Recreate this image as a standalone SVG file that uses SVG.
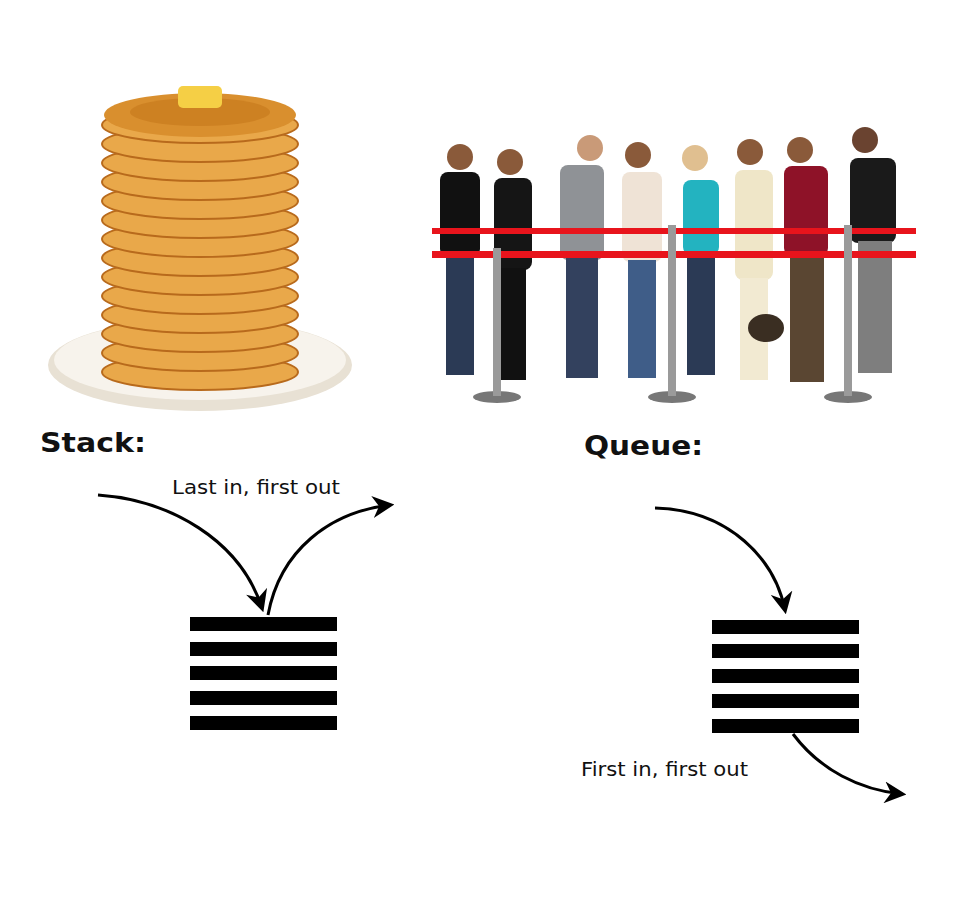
<svg xmlns="http://www.w3.org/2000/svg" width="980" height="905" viewBox="0 0 980 905">
<style>
.lbl{font-family:"DejaVu Sans","Liberation Sans",sans-serif;font-size:19px;fill:#111}
.ttl{font-family:"DejaVu Sans","Liberation Sans",sans-serif;font-size:27px;font-weight:bold;fill:#111}
.bar{fill:#000}
.cn{fill:none;stroke:#000;stroke-width:3}
.pc{fill:#e9a84a;stroke:#b86a1c;stroke-width:2}
.head{fill:#8a5a3a}
.leg{fill:#2b3a55}
.pole{fill:#9a9a9a}
</style>
<defs>
<marker id="ah" viewBox="0 0 10 10" refX="8" refY="5" markerWidth="22" markerHeight="22" orient="auto" markerUnits="userSpaceOnUse">
<path d="M0,0 L10,5 L0,10 L3,5 Z" fill="#000"/>
</marker>
</defs>
<rect width="980" height="905" fill="#fff"/>
<g id="pancakes">
<ellipse cx="200" cy="365" rx="152" ry="46" fill="#e8e1d4"/>
<ellipse cx="200" cy="360" rx="146" ry="40" fill="#f7f3ec"/>
<g>
<ellipse class="pc" cx="200" cy="372" rx="98" ry="18"/>
<ellipse class="pc" cx="200" cy="353" rx="98" ry="18"/>
<ellipse class="pc" cx="200" cy="334" rx="98" ry="18"/>
<ellipse class="pc" cx="200" cy="315" rx="98" ry="18"/>
<ellipse class="pc" cx="200" cy="296" rx="98" ry="18"/>
<ellipse class="pc" cx="200" cy="277" rx="98" ry="18"/>
<ellipse class="pc" cx="200" cy="258" rx="98" ry="18"/>
<ellipse class="pc" cx="200" cy="239" rx="98" ry="18"/>
<ellipse class="pc" cx="200" cy="220" rx="98" ry="18"/>
<ellipse class="pc" cx="200" cy="201" rx="98" ry="18"/>
<ellipse class="pc" cx="200" cy="182" rx="98" ry="18"/>
<ellipse class="pc" cx="200" cy="163" rx="98" ry="18"/>
<ellipse class="pc" cx="200" cy="144" rx="98" ry="18"/>
<ellipse class="pc" cx="200" cy="125" rx="98" ry="18"/>
<ellipse cx="200" cy="115" rx="96" ry="22" fill="#d98f2e"/>
<ellipse cx="200" cy="112" rx="70" ry="14" fill="#c77a1e" opacity="0.7"/>
<rect x="178" y="86" width="44" height="22" rx="5" fill="#f5cf45"/>
</g>
</g>
<g id="queue">
<g fill="#777">
<ellipse cx="497" cy="397" rx="24" ry="6"/>
<ellipse cx="672" cy="397" rx="24" ry="6"/>
<ellipse cx="848" cy="397" rx="24" ry="6"/>
</g>
<g>
<circle class="head" cx="460" cy="157" r="13"/><rect x="440" y="172" width="40" height="85" rx="8" fill="#111"/><rect x="446" y="255" width="28" height="120" class="leg"/>
<circle class="head" cx="510" cy="162" r="13"/><rect x="494" y="178" width="38" height="92" rx="8" fill="#151515"/><rect x="500" y="268" width="26" height="112" fill="#111"/>
<circle cx="590" cy="148" r="13" fill="#c99a78"/><rect x="560" y="165" width="44" height="95" rx="8" fill="#8f9296"/><rect x="566" y="258" width="32" height="120" fill="#33415e"/>
<circle class="head" cx="638" cy="155" r="13"/><rect x="622" y="172" width="40" height="90" rx="8" fill="#efe3d6"/><rect x="628" y="260" width="28" height="118" fill="#3f5d88"/>
<circle cx="695" cy="158" r="13" fill="#e0bf90"/><rect x="683" y="180" width="36" height="75" rx="8" fill="#23b3c0"/><rect x="687" y="253" width="28" height="122" class="leg"/>
<circle class="head" cx="750" cy="152" r="13"/><rect x="735" y="170" width="38" height="110" rx="8" fill="#efe6c8"/><rect x="740" y="278" width="28" height="102" fill="#f2ead2"/>
<ellipse cx="766" cy="328" rx="18" ry="14" fill="#3a2e22"/>
<circle class="head" cx="800" cy="150" r="13"/><rect x="784" y="166" width="44" height="90" rx="8" fill="#8e1228"/><rect x="790" y="254" width="34" height="128" fill="#5a4632"/>
<circle cx="865" cy="140" r="13" fill="#6a4330"/><rect x="850" y="158" width="46" height="85" rx="8" fill="#1a1a1a"/><rect x="858" y="241" width="34" height="132" fill="#7e7e7e"/>
</g>
<g fill="#e8141c">
<rect x="432" y="228" width="484" height="6"/>
<rect x="432" y="251" width="484" height="7"/>
</g>
<g class="pole">
<rect x="493" y="248" width="8" height="148"/>
<rect x="668" y="225" width="8" height="171"/>
<rect x="844" y="225" width="8" height="171"/>
</g>
</g>
<text class="ttl" x="40" y="452" textLength="106" lengthAdjust="spacingAndGlyphs">Stack:</text>
<text class="ttl" x="584" y="455" textLength="119" lengthAdjust="spacingAndGlyphs">Queue:</text>
<text class="lbl" x="172" y="494" textLength="168" lengthAdjust="spacingAndGlyphs">Last in, first out</text>
<text class="lbl" x="581" y="776" textLength="167" lengthAdjust="spacingAndGlyphs">First in, first out</text>
<g id="stack-bars">
<rect class="bar" x="190" y="617" width="147" height="14"/>
<rect class="bar" x="190" y="642" width="147" height="14"/>
<rect class="bar" x="190" y="666" width="147" height="14"/>
<rect class="bar" x="190" y="691" width="147" height="14"/>
<rect class="bar" x="190" y="716" width="147" height="14"/>
</g>
<g id="queue-bars">
<rect class="bar" x="712" y="620" width="147" height="14"/>
<rect class="bar" x="712" y="644" width="147" height="14"/>
<rect class="bar" x="712" y="669" width="147" height="14"/>
<rect class="bar" x="712" y="694" width="147" height="14"/>
<rect class="bar" x="712" y="719" width="147" height="14"/>
</g>
<g id="connectors">
<path class="cn" d="M98,495 C170,500 240,540 262,608" marker-end="url(#ah)"/>
<path class="cn" d="M268,615 C280,550 330,512 390,505" marker-end="url(#ah)"/>
<path class="cn" d="M655,508 C730,510 775,560 785,610" marker-end="url(#ah)"/>
<path class="cn" d="M793,734 C820,770 860,790 902,794" marker-end="url(#ah)"/>
</g>
</svg>
